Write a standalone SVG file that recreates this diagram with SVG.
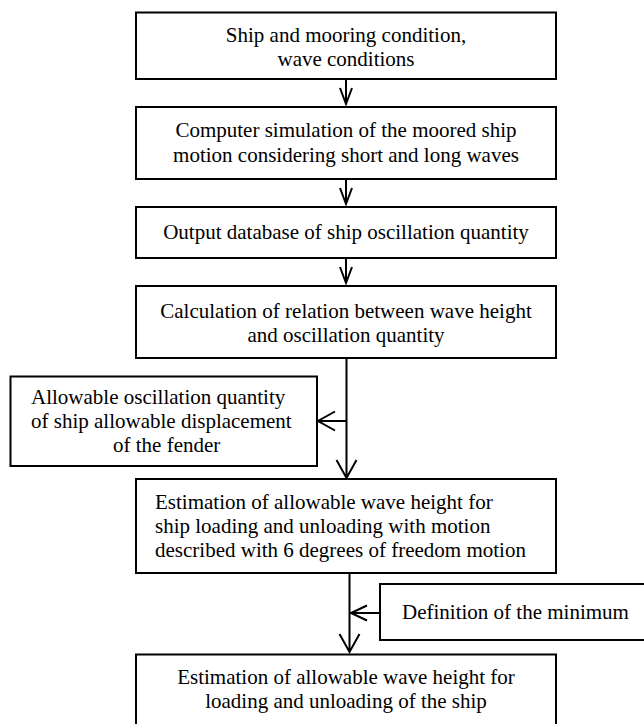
<svg xmlns="http://www.w3.org/2000/svg" width="644" height="724" viewBox="0 0 644 724">
<style>
.box{fill:#fff;stroke:#000;stroke-width:2}
.t{font-family:"Liberation Serif","Times New Roman",serif;font-size:21px;fill:#000}
.c{text-anchor:middle}
.ln{fill:none;stroke:#000;stroke-width:2}
</style>
<rect width="644" height="724" fill="#fff"/>
<g id="n1"><rect class="box" x="136" y="12.5" width="420" height="66.5"/>
<text class="t c" x="346" y="42">Ship and mooring condition,</text>
<text class="t c" x="346" y="66">wave conditions</text></g>
<g id="n2"><rect class="box" x="136" y="107" width="420" height="72"/>
<text class="t c" x="346" y="137">Computer simulation of the moored ship</text>
<text class="t c" x="346" y="162">motion considering short and long waves</text></g>
<g id="n3"><rect class="box" x="136" y="207" width="420" height="51"/>
<text class="t c" x="346" y="239">Output database of ship oscillation quantity</text></g>
<g id="n4"><rect class="box" x="136" y="286" width="420" height="72"/>
<text class="t c" x="346" y="318">Calculation of relation between wave height</text>
<text class="t c" x="346" y="342">and oscillation quantity</text></g>
<g id="n5"><rect class="box" x="10.5" y="376.5" width="306.5" height="89.5"/>
<text class="t" x="31" y="404">Allowable oscillation quantity</text>
<text class="t" x="31" y="428">of ship allowable displacement</text>
<text class="t" x="113" y="452">of the fender</text></g>
<g id="n6"><rect class="box" x="136" y="479" width="420" height="94"/>
<text class="t" x="155" y="509">Estimation of allowable wave height for</text>
<text class="t" x="155" y="533">ship loading and unloading with motion</text>
<text class="t" x="155" y="557">described with 6 degrees of freedom motion</text></g>
<g id="n7"><rect class="box" x="380" y="584" width="280" height="56"/>
<text class="t" x="402" y="619">Definition of the minimum</text></g>
<g id="n8"><rect class="box" x="136" y="654.5" width="420" height="80"/>
<text class="t c" x="346" y="684">Estimation of allowable wave height for</text>
<text class="t c" x="346" y="708">loading and unloading of the ship</text></g>
<g id="connectors">
<path class="ln" d="M346 79V104M340 88L346 104L352 88"/>
<path class="ln" d="M346 179V204M340 188L346 204L352 188"/>
<path class="ln" d="M346 258V283M340 267L346 283L352 267"/>
<path class="ln" d="M346.5 358V478M336.5 460L346.5 478L356.5 460"/>
<path class="ln" d="M346.5 421H318M335 411.5L318 421L335 430.5"/>
<path class="ln" d="M349.5 573V652M339.5 634L349.5 652L359.5 634"/>
<path class="ln" d="M380 613H351M367 605.5L351 613L367 620.5"/>
</g>
</svg>
